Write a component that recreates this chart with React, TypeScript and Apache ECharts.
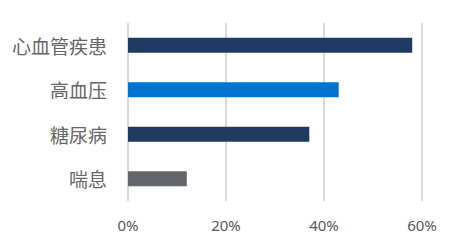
import React, { useEffect, useRef } from "react";
import * as echarts from "echarts";

const categories = ["心血管疾患", "高血压", "糖尿病", "喘息"];
const values = [58, 43, 37, 12];
const barColors = ["#1F3B61", "#0074CE", "#1F3B61", "#63666A"];
const xTicks = [0, 20, 40, 60];

export default function App() {
  const ref = useRef<HTMLDivElement>(null);
  useEffect(() => {
    if (!ref.current) return;
    const chart = echarts.init(ref.current, undefined, { renderer: "svg" });
    chart.setOption({
      animation: false,
      grid: { left: 128, right: 39, top: 23, bottom: 48, containLabel: false },
      xAxis: {
        type: "value",
        min: xTicks[0],
        max: xTicks[xTicks.length - 1],
        interval: 20,
        axisLine: { show: false },
        axisTick: { show: false },
        splitLine: { show: true, lineStyle: { color: "#D9D9D9", width: 2 } },
        axisLabel: {
          formatter: "{value}%",
          color: "#595959",
          fontSize: 15,
          fontFamily: "Noto Sans, sans-serif",
          margin: 16,
        },
      },
      yAxis: {
        type: "category",
        inverse: true,
        data: categories,
        axisLine: { show: false },
        axisTick: { show: false },
        axisLabel: {
          color: "#666666",
          fontSize: 19,
          fontFamily: "Noto Sans CJK SC, sans-serif",
          margin: 21,
        },
      },
      series: [
        {
          type: "bar",
          barWidth: 15,
          data: values.map((v, i) => ({ value: v, itemStyle: { color: barColors[i] } })),
        },
      ],
    });
    return () => chart.dispose();
  }, []);
  return <div ref={ref} style={{ width: 461, height: 249, position: "absolute", left: 0, top: 0 }} />;
}
